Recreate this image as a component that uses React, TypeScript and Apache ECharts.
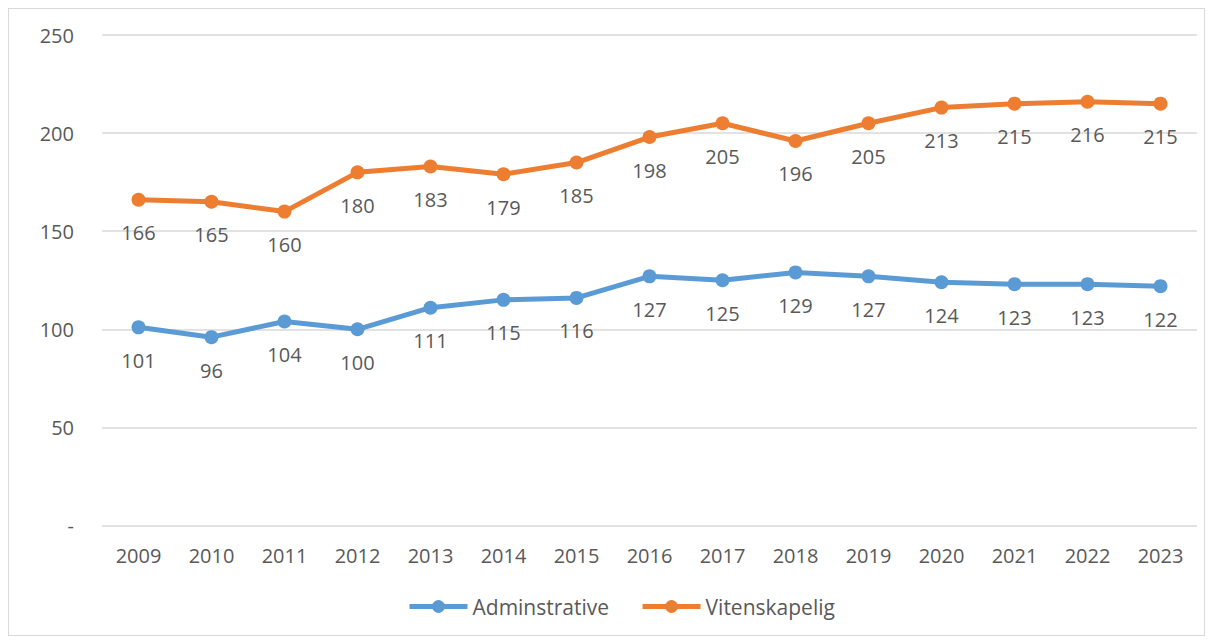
import React, { useEffect, useRef } from "react";
import * as echarts from "echarts";

const years = ["2009","2010","2011","2012","2013","2014","2015","2016","2017","2018","2019","2020","2021","2022","2023"];
const adminstrative = [101, 96, 104, 100, 111, 115, 116, 127, 125, 129, 127, 124, 123, 123, 122];
const vitenskapelig = [166, 165, 160, 180, 183, 179, 185, 198, 205, 196, 205, 213, 215, 216, 215];
const yTicks = { min: 0, max: 250, interval: 50 };

const FONT = "'Open Sans', 'Liberation Sans', sans-serif";
const TEXT = "#595959";

export default function App() {
  const ref = useRef<HTMLDivElement>(null);
  useEffect(() => {
    if (!ref.current) return;
    const chart = echarts.init(ref.current, undefined, { renderer: "svg" });
    const mkSeries = (name: string, data: number[], color: string) => ({
      name,
      type: "line",
      data,
      symbol: "circle",
      symbolSize: 14,
      lineStyle: { width: 5, color },
      itemStyle: { color },
      label: {
        show: true,
        position: "bottom",
        distance: 16,
        color: TEXT,
        fontSize: 20,
        fontFamily: FONT,
      },
    });
    chart.setOption({
      animation: false,
      backgroundColor: "#ffffff",
      textStyle: { fontFamily: FONT },
      grid: { left: 93, right: 7, top: 26, bottom: 109.5, containLabel: false },
      legend: {
        bottom: 13,
        left: 393,
        itemWidth: 58,
        itemHeight: 16,
        itemGap: 31,
        lineStyle: { width: 5 },
        textStyle: { color: TEXT, fontSize: 21, fontFamily: FONT },
        data: ["Adminstrative", "Vitenskapelig"],
      },
      xAxis: {
        type: "category",
        data: years,
        boundaryGap: true,
        axisLine: { show: false },
        axisTick: { show: false },
        axisLabel: { color: TEXT, fontSize: 20, fontFamily: FONT, margin: 20 },
      },
      yAxis: {
        type: "value",
        min: yTicks.min,
        max: yTicks.max,
        interval: yTicks.interval,
        axisLine: { show: false },
        axisTick: { show: false },
        splitLine: { show: true, lineStyle: { color: "#d9d9d9", width: 1.5 } },
        axisLabel: {
          color: TEXT,
          fontSize: 20,
          fontFamily: FONT,
          margin: 28,
          formatter: (v: number) => (v === 0 ? "-" : String(v)),
        },
      },
      series: [
        mkSeries("Adminstrative", adminstrative, "#5B9BD5"),
        mkSeries("Vitenskapelig", vitenskapelig, "#ED7D31"),
      ],
    });
    return () => chart.dispose();
  }, []);
  return (
    <div
      style={{
        width: 1195,
        height: 626,
        border: "1px solid #d9d9d9",
        background: "#fff",
      }}
    >
      <div ref={ref} style={{ width: 1195, height: 626 }} />
    </div>
  );
}
